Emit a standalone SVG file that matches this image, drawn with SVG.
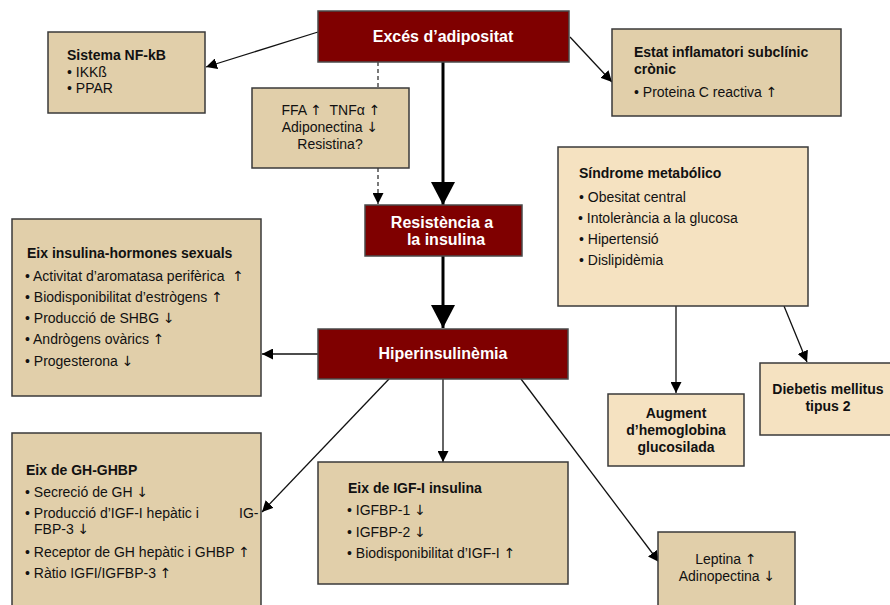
<svg xmlns="http://www.w3.org/2000/svg" width="890" height="605" viewBox="0 0 890 605">
<style>
text{font-family:"Liberation Sans",Arial,"DejaVu Sans",sans-serif;font-size:14px;fill:#111}
.b{font-weight:bold}
.w{fill:#fff;font-weight:bold;font-size:16px}
.c{text-anchor:middle}
.ar{font-family:"DejaVu Sans",sans-serif;font-size:14px}
.red{fill:#7f0000;stroke:#4a4a4a;stroke-width:1.5}
.tan{fill:#e1cfaa;stroke:#3a3a3a;stroke-width:1.5}
.lt{fill:#f5e2c1;stroke:#3a3a3a;stroke-width:1.5}
.ln{stroke:#111;stroke-width:1.3;fill:none}
.thk{stroke:#000;stroke-width:3;fill:none}
.dash{stroke:#333;stroke-width:1.3;fill:none;stroke-dasharray:4,3}
</style>
<defs>
<marker id="a" viewBox="0 0 10 10" refX="10" refY="5" markerWidth="11" markerHeight="11" markerUnits="userSpaceOnUse" orient="auto"><path d="M0,0 L10,5 L0,10 z" fill="#000"/></marker>
<marker id="A" viewBox="0 0 10 10" refX="10" refY="5" markerWidth="23" markerHeight="24" markerUnits="userSpaceOnUse" orient="auto" preserveAspectRatio="none"><path d="M0,0 L10,5 L0,10 z" fill="#000"/></marker>
</defs>

<g id="connectors">
<line class="ln" x1="318" y1="32" x2="206" y2="67" marker-end="url(#a)"/>
<line class="ln" x1="570" y1="37" x2="612" y2="82" marker-end="url(#a)"/>
<line class="dash" x1="378" y1="62" x2="378" y2="88"/>
<line class="dash" x1="378" y1="168" x2="378" y2="204" marker-end="url(#a)"/>
<line class="thk" x1="443" y1="62" x2="443" y2="205" marker-end="url(#A)"/>
<line class="thk" x1="443" y1="256" x2="443" y2="328" marker-end="url(#A)"/>
<line class="ln" x1="318" y1="354" x2="262" y2="354" marker-end="url(#a)"/>
<line class="ln" x1="389" y1="379" x2="262" y2="512" marker-end="url(#a)"/>
<line class="ln" x1="443" y1="379" x2="443" y2="462" marker-end="url(#a)"/>
<line class="ln" x1="521" y1="379" x2="659" y2="562" marker-end="url(#a)"/>
<line class="ln" x1="676" y1="306" x2="676" y2="393" marker-end="url(#a)"/>
<line class="ln" x1="784" y1="306" x2="807" y2="362" marker-end="url(#a)"/>
</g>

<g id="exces">
<rect class="red" x="318" y="11" width="251" height="51"/>
<text class="w c" x="443" y="42">Excés d’adipositat</text>
</g>

<g id="nfkb">
<rect class="tan" x="48" y="32" width="157" height="81"/>
<text class="b" x="67" y="60">Sistema NF-kB</text>
<text x="67" y="77">• IKKß</text>
<text x="67" y="93">• PPAR</text>
</g>

<g id="ffa">
<rect class="tan" x="252" y="88" width="157" height="80"/>
<text class="c" x="331" y="115" xml:space="preserve">FFA <tspan class="ar">↑</tspan>  TNFα <tspan class="ar">↑</tspan></text>
<text class="c" x="330" y="132">Adiponectina <tspan class="ar">↓</tspan></text>
<text class="c" x="330" y="149">Resistina?</text>
</g>

<g id="estat">
<rect class="tan" x="612" y="29" width="229" height="87"/>
<text class="b" x="634" y="57">Estat inflamatori subclínic</text>
<text class="b" x="634" y="74">crònic</text>
<text x="634" y="97">• Proteina C reactiva <tspan class="ar">↑</tspan></text>
</g>

<g id="resistencia">
<rect class="red" x="365" y="205" width="157" height="51"/>
<text class="w c" x="442" y="228">Resistència a</text>
<text class="w c" x="446" y="245">la insulina</text>
</g>

<g id="hiper">
<rect class="red" x="318" y="329" width="250" height="50"/>
<text class="w c" x="443" y="359">Hiperinsulinèmia</text>
</g>

<g id="sindrome">
<rect class="lt" x="558" y="147" width="250" height="159"/>
<text class="b" x="579" y="178">Síndrome metabólico</text>
<text x="579" y="202">• Obesitat central</text>
<text x="578" y="223">• Intolerància a la glucosa</text>
<text x="579" y="244">• Hipertensió</text>
<text x="579" y="265">• Dislipidèmia</text>
</g>

<g id="augment">
<rect class="lt" x="608" y="394" width="136" height="72"/>
<text class="b c" x="676" y="418">Augment</text>
<text class="b c" x="676" y="435">d’hemoglobina</text>
<text class="b c" x="676" y="452">glucosilada</text>
</g>

<g id="diabetis">
<rect class="lt" x="760" y="363" width="140" height="72"/>
<text class="b c" x="828" y="394">Diebetis mellitus</text>
<text class="b c" x="828" y="411">tipus 2</text>
</g>

<g id="sexuals">
<rect class="tan" x="12" y="219" width="249" height="177"/>
<text class="b" x="27" y="258">Eix insulina-hormones sexuals</text>
<text x="25" y="281" xml:space="preserve">• Activitat d’aromatasa perifèrica  <tspan class="ar">↑</tspan></text>
<text x="25" y="302">• Biodisponibilitat d’estrògens <tspan class="ar">↑</tspan></text>
<text x="25" y="323">• Producció de SHBG <tspan class="ar">↓</tspan></text>
<text x="25" y="344">• Andrògens ovàrics <tspan class="ar">↑</tspan></text>
<text x="25" y="366">• Progesterona <tspan class="ar">↓</tspan></text>
</g>

<g id="gh">
<rect class="tan" x="12" y="433" width="249" height="180"/>
<text class="b" x="26" y="475">Eix de GH-GHBP</text>
<text x="25" y="497">• Secreció de GH <tspan class="ar">↓</tspan></text>
<text x="25" y="518">• Producció d’IGF-I hepàtic i</text>
<text x="239" y="518">IG-</text>
<text x="34" y="534">FBP-3 <tspan class="ar">↓</tspan></text>
<text x="25" y="557">• Receptor de GH hepàtic i GHBP <tspan class="ar">↑</tspan></text>
<text x="25" y="578">• Ràtio IGFI/IGFBP-3 <tspan class="ar">↑</tspan></text>
</g>

<g id="igf">
<rect class="tan" x="318" y="462" width="250" height="122"/>
<text class="b" x="348" y="493">Eix de IGF-I insulina</text>
<text x="347" y="515">• IGFBP-1 <tspan class="ar">↓</tspan></text>
<text x="347" y="537">• IGFBP-2 <tspan class="ar">↓</tspan></text>
<text x="347" y="558">• Biodisponibilitat d’IGF-I <tspan class="ar">↑</tspan></text>
</g>

<g id="leptina">
<rect class="tan" x="658" y="532" width="137" height="80"/>
<text class="c" x="726" y="564">Leptina <tspan class="ar">↑</tspan></text>
<text class="c" x="727" y="581">Adinopectina <tspan class="ar">↓</tspan></text>
</g>
</svg>
